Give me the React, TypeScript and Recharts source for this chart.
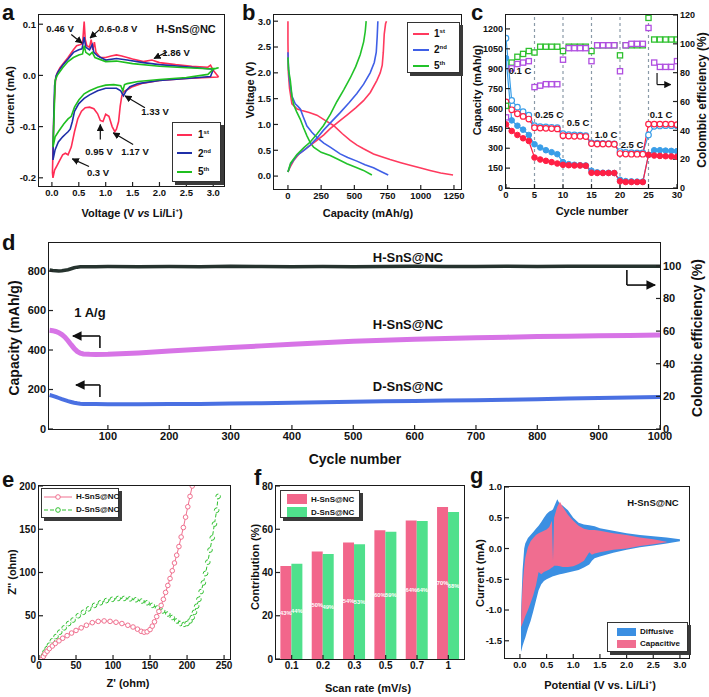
import React from 'react'
import {
  LineChart, Line, XAxis, YAxis, BarChart, Bar, LabelList,
  ComposedChart, AreaChart, Area, ReferenceLine,
} from 'recharts'

const FONT = "'Liberation Sans', Arial, Helvetica, sans-serif"

// ---- a: cyclic voltammetry, [voltage, current]
const cvFirst: [number, number][] = [
  [3.1, -0.003], [2.9, -0.004], [2.5, -0.006], [2.0, -0.01], [1.7, -0.015], [1.5, -0.022], [1.4, -0.028],
  [1.33, -0.032], [1.3, -0.04], [1.27, -0.06], [1.24, -0.09], [1.2, -0.105], [1.17, -0.11], [1.12, -0.1],
  [1.06, -0.08], [1.0, -0.076], [0.95, -0.09], [0.9, -0.088], [0.85, -0.075], [0.78, -0.065], [0.7, -0.062],
  [0.62, -0.063], [0.55, -0.07], [0.48, -0.085], [0.42, -0.11], [0.36, -0.14], [0.3, -0.155], [0.25, -0.152],
  [0.2, -0.155], [0.15, -0.165], [0.1, -0.175], [0.05, -0.185], [0.02, -0.2],
  [0.01, -0.19], [0.04, -0.06], [0.07, -0.005], [0.1, 0.005], [0.15, 0.015], [0.2, 0.022], [0.3, 0.035],
  [0.4, 0.05], [0.46, 0.058], [0.52, 0.06], [0.57, 0.062], [0.6, 0.105], [0.62, 0.07], [0.65, 0.058],
  [0.7, 0.055], [0.73, 0.07], [0.76, 0.05], [0.79, 0.065], [0.82, 0.045], [0.9, 0.035], [1.0, 0.035],
  [1.1, 0.038], [1.2, 0.04], [1.3, 0.038], [1.5, 0.032], [1.7, 0.027], [1.86, 0.03], [2.0, 0.025],
  [2.3, 0.021], [2.6, 0.018], [2.9, 0.016], [2.95, 0.02], [3.0, 0.01], [3.1, -0.003],
]
const cvSecond: [number, number][] = [
  [3.0, 0.012], [2.95, -0.002], [2.5, -0.006], [2.0, -0.01], [1.6, -0.016], [1.45, -0.022], [1.38, -0.03],
  [1.33, -0.04], [1.28, -0.03], [1.2, -0.025], [1.0, -0.025], [0.85, -0.03], [0.7, -0.038], [0.6, -0.045],
  [0.5, -0.055], [0.42, -0.07], [0.38, -0.09], [0.34, -0.105], [0.3, -0.11], [0.25, -0.115], [0.2, -0.12],
  [0.12, -0.13], [0.06, -0.145], [0.02, -0.165],
  [0.03, -0.1], [0.05, -0.02], [0.08, 0.0], [0.12, 0.008], [0.2, 0.02], [0.3, 0.032], [0.4, 0.045],
  [0.5, 0.05], [0.56, 0.052], [0.6, 0.075], [0.63, 0.055], [0.7, 0.05], [0.75, 0.06], [0.78, 0.045],
  [0.85, 0.038], [1.0, 0.03], [1.2, 0.033], [1.4, 0.03], [1.7, 0.025], [2.0, 0.021], [2.5, 0.017],
  [2.9, 0.013], [3.0, 0.012],
]
const cvFifth: [number, number][] = [
  [3.1, 0.015], [3.0, 0.012], [2.9, 0.002], [2.5, -0.004], [2.0, -0.008], [1.6, -0.012], [1.4, -0.016],
  [1.35, -0.018], [1.32, -0.03], [1.28, -0.02], [1.15, -0.018], [1.0, -0.019], [0.85, -0.023], [0.7, -0.03],
  [0.6, -0.036], [0.5, -0.048], [0.42, -0.062], [0.36, -0.08], [0.3, -0.085], [0.22, -0.095], [0.12, -0.11],
  [0.06, -0.12], [0.02, -0.14],
  [0.04, -0.08], [0.06, -0.01], [0.1, 0.0], [0.2, 0.015], [0.3, 0.027], [0.4, 0.035], [0.5, 0.04],
  [0.57, 0.042], [0.6, 0.058], [0.63, 0.045], [0.7, 0.04], [0.75, 0.045], [0.8, 0.035], [1.0, 0.027],
  [1.2, 0.028], [1.5, 0.023], [2.0, 0.018], [2.5, 0.015], [2.9, 0.013], [3.05, 0.014], [3.1, 0.015],
]

// ---- b: charge / discharge profiles, [capacity, voltage]
const gcd1Dis: [number, number][] = [
  [0, 3.0], [0, 2.6], [3, 2.0], [12, 1.7], [30, 1.4], [70, 1.3], [105, 1.27], [160, 1.23], [218, 1.18],
  [280, 1.08], [343, 0.98], [410, 0.82], [469, 0.69], [520, 0.6], [569, 0.53], [644, 0.43], [700, 0.38],
  [769, 0.32], [850, 0.26], [920, 0.21], [1000, 0.155], [1070, 0.11], [1150, 0.06], [1243, 0.02],
]
const gcd1Cha: [number, number][] = [
  [0, 0.08], [15, 0.17], [43, 0.3], [80, 0.42], [118, 0.5], [170, 0.6], [218, 0.69], [270, 0.8], [318, 0.92],
  [380, 1.05], [444, 1.18], [510, 1.32], [569, 1.46], [620, 1.62], [669, 1.85], [695, 2.0], [710, 2.15],
  [718, 2.4], [725, 2.75], [735, 2.95], [742, 3.0],
]
const gcd2Dis: [number, number][] = [
  [0, 2.4], [4, 2.1], [12, 1.85], [30, 1.55], [55, 1.4], [75, 1.35], [93, 1.3], [115, 1.15], [143, 0.97],
  [180, 0.85], [218, 0.75], [270, 0.64], [318, 0.56], [393, 0.43], [450, 0.36], [519, 0.29], [580, 0.22],
  [644, 0.16], [700, 0.09], [755, 0.02],
]
const gcd2Cha: [number, number][] = [
  [0, 0.08], [20, 0.23], [68, 0.4], [120, 0.5], [168, 0.6], [220, 0.74], [268, 0.89], [330, 1.06],
  [393, 1.23], [460, 1.42], [519, 1.6], [570, 1.78], [619, 2.0], [650, 2.2], [665, 2.4], [672, 2.7], [677, 3.0],
]
const gcd5Dis: [number, number][] = [
  [0, 2.3], [5, 2.05], [18, 1.85], [30, 1.55], [43, 1.38], [65, 1.25], [93, 1.1], [118, 0.93], [143, 0.78],
  [168, 0.65], [193, 0.56], [250, 0.46], [318, 0.4], [380, 0.32], [444, 0.24], [510, 0.17], [569, 0.11], [632, 0.02],
]
const gcd5Cha: [number, number][] = [
  [0, 0.08], [20, 0.25], [68, 0.42], [120, 0.55], [168, 0.66], [220, 0.82], [268, 0.98], [320, 1.2],
  [368, 1.44], [420, 1.67], [469, 1.9], [510, 2.12], [544, 2.35], [570, 2.6], [582, 2.8], [589, 3.0],
]

// ---- c: rate performance
const rateCycles = [0, 1, 2, 3, 4, 5, 6, 7, 8, 9, 10, 11, 12, 13, 14, 15, 16, 17, 18, 19, 20, 21, 22, 23, 24, 25, 26, 27, 28, 29, 30]
const rateBlueOpen = [1130, 660, 610, 575, 550, 470, 462, 460, 458, 455, 410, 402, 400, 398, 395, 340, 338, 336, 335, 333, 275, 268, 266, 265, 264, 400, 465, 468, 470, 470, 470]
const rateRedOpen = [650, 590, 560, 540, 520, 455, 452, 450, 448, 446, 395, 392, 390, 390, 388, 335, 332, 332, 332, 330, 260, 256, 255, 255, 255, 482, 482, 482, 482, 482, 478]
const rateBlueFill = [980, 510, 470, 440, 400, 330, 305, 285, 270, 255, 195, 180, 175, 172, 170, 130, 118, 115, 115, 113, 62, 52, 50, 48, 48, 250, 285, 285, 282, 280, 278]
const rateRedFill = [480, 430, 400, 375, 355, 230, 215, 205, 195, 185, 175, 172, 170, 170, 168, 115, 113, 113, 113, 113, 50, 45, 45, 45, 45, 250, 245, 242, 240, 238, 236]
const rateCeGreen = [57, 87, 91, 93, 95, 94, 98, 98, 98, 98, 95, 98, 98, 98, 98, 95, 99, 99, 99, 99, 92, 99, 99, 99, 99, 118, 103, 103, 103, 103, 103]
const rateCePurple = [49, 83, 86, 87, 88, 70, 71, 72, 72, 72, 89, 97, 97, 97, 97, 88, 99, 99, 99, 99, 81, 99, 100, 100, 100, 111, 87, 84, 84, 84, 88]
const rateSteps = [5, 10, 15, 20, 25]

// ---- d: long cycling at 1 A/g
const longCycles = [5, 10, 15, 20, 25, 30, 35, 40, 45, 50, 55, 60, 70, 80, 100, 150, 200, 250, 300, 350, 400, 450, 500, 550, 600, 650, 700, 750, 800, 850, 900, 950, 1000]
const longH = [500, 498, 494, 488, 478, 465, 447, 427, 408, 393, 384, 380, 378, 377, 378, 385, 395, 404, 413, 421, 429, 437, 444, 449, 454, 458, 462, 465, 468, 470, 472, 474, 476]
const longD = [172, 168, 163, 157, 151, 146, 141, 137, 133, 130, 128, 127, 126, 126, 125, 125, 126, 127, 129, 131, 133, 135, 138, 140, 142, 144, 146, 148, 151, 154, 157, 160, 162]
const longCE = [97.5, 97.2, 97, 96.8, 97, 97.3, 97.6, 98.2, 98.8, 99.2, 99.4, 99.5, 99.5, 99.5, 99.6, 99.5, 99.6, 99.5, 99.8, 99.6, 99.5, 99.6, 99.5, 99.6, 99.7, 99.6, 99.6, 99.7, 99.6, 99.7, 99.7, 99.7, 99.8]

// ---- e: Nyquist plots, [Z', Z'']
const eisH: [number, number][] = [
  [4, 0], [6, 3], [8, 6], [11, 9], [14, 12], [18, 15], [22, 18], [27, 21], [32, 24], [38, 27], [44, 30],
  [50, 33], [57, 36], [64, 39], [72, 42], [80, 43.5], [88, 44], [96, 43.5], [104, 42.5], [112, 41], [120, 39],
  [127, 37], [133, 34.5], [138, 32], [142, 31], [146, 31.5], [150, 34], [153, 38], [156, 43], [159, 49],
  [162, 55], [165, 62], [168, 69], [171, 77], [174, 85], [177, 93], [180, 102], [183, 111], [186, 120],
  [189, 130], [192, 141], [195, 152], [198, 164], [201, 176], [204, 188], [207, 200],
]
const eisD: [number, number][] = [
  [4, 0], [6, 4], [8, 8], [11, 12], [14, 16], [18, 21], [23, 26], [28, 31], [34, 36], [40, 41], [46, 45],
  [53, 50], [60, 54], [67, 58], [75, 62], [83, 65], [91, 67.5], [99, 69], [107, 70], [115, 70], [123, 69.5],
  [131, 68.5], [139, 67], [146, 65], [153, 62], [160, 59], [167, 55.5], [174, 52], [180, 48], [186, 44],
  [191, 41], [196, 40], [200, 41], [204, 44], [207, 48], [210, 54], [213, 61], [216, 69], [219, 78], [222, 88],
  [225, 99], [228, 112], [231, 126], [234, 140], [237, 156], [240, 172], [242, 188],
]

// ---- f: capacitive contribution
const scanRates = ['0.1', '0.2', '0.3', '0.5', '0.7', '1']
const contribH = [43, 49.7, 53.9, 59.5, 64.1, 70.3]
const contribD = [44, 48.6, 53.1, 58.8, 63.8, 68]

// ---- g: diffusive / capacitive separation at one scan rate
const potentials = [0.02, 0.03, 0.05, 0.08, 0.1, 0.15, 0.2, 0.25, 0.3, 0.35, 0.4, 0.45, 0.5, 0.55, 0.6, 0.62, 0.64, 0.7, 0.75, 0.8, 0.9, 1.0, 1.1, 1.2, 1.3, 1.35, 1.4, 1.5, 1.75, 2.0, 2.25, 2.5, 2.75, 3.0]
const totalLo = [-1.68, -1.65, -1.58, -1.5, -1.45, -1.3, -1.18, -1.02, -0.85, -0.68, -0.58, -0.53, -0.5, -0.48, -0.46, -0.45, -0.445, -0.43, -0.42, -0.41, -0.39, -0.37, -0.35, -0.31, -0.26, -0.2, -0.16, -0.13, -0.07, -0.02, 0.02, 0.05, 0.08, 0.12]
const totalHi = [-1.1, -0.8, -0.35, 0.0, 0.08, 0.17, 0.22, 0.27, 0.32, 0.37, 0.43, 0.5, 0.56, 0.6, 0.62, 0.64, 0.68, 0.8, 0.72, 0.7, 0.62, 0.5, 0.42, 0.39, 0.38, 0.37, 0.36, 0.33, 0.29, 0.25, 0.22, 0.2, 0.18, 0.15]
const capLo = [-1.28, -1.26, -1.22, -1.15, -1.1, -1.0, -0.88, -0.76, -0.6, -0.38, -0.42, -0.38, -0.36, -0.34, -0.31, -0.3, -0.28, -0.28, -0.29, -0.3, -0.3, -0.29, -0.25, -0.2, -0.06, -0.1, -0.08, -0.06, -0.02, 0.0, 0.04, 0.07, 0.1, null]
const capHi = [-1.2, -0.95, -0.6, -0.3, -0.15, 0.02, 0.12, 0.17, 0.22, 0.25, 0.27, 0.29, 0.31, 0.35, 0.45, -0.2, 0.5, 0.68, 0.76, 0.68, 0.55, 0.45, 0.37, 0.32, 0.3, 0.3, 0.3, 0.29, 0.25, 0.22, 0.18, 0.15, 0.11, null]

const pts = (arr: [number, number][]) => arr.map(([x, y]) => ({ x, y }))

const cvSeries = [
  { name: '1', sup: 'st', color: '#ff2d55', data: pts(cvFirst) },
  { name: '2', sup: 'nd', color: '#1f2fa8', data: pts(cvSecond) },
  { name: '5', sup: 'th', color: '#1fbf1f', data: pts(cvFifth) },
]
const gcdSeries = [
  { name: '1', sup: 'st', color: '#ff3a5e', dis: pts(gcd1Dis), cha: pts(gcd1Cha) },
  { name: '2', sup: 'nd', color: '#3f5fe6', dis: pts(gcd2Dis), cha: pts(gcd2Cha) },
  { name: '5', sup: 'th', color: '#22c22a', dis: pts(gcd5Dis), cha: pts(gcd5Cha) },
]
const rateTable = rateCycles.map((c, i) => ({
  cycle: c, bo: rateBlueOpen[i], ro: rateRedOpen[i], bf: rateBlueFill[i], rf: rateRedFill[i],
  ceg: rateCeGreen[i], cep: rateCePurple[i],
}))
const longTable = longCycles.map((c, i) => ({ cycle: c, h: longH[i], d: longD[i], ce: longCE[i] }))
const barTable = scanRates.map((r, i) => ({ rate: r, h: contribH[i], d: contribD[i] }))
const areaTable = potentials.map((x, i) => ({
  x,
  total: [totalLo[i], totalHi[i]],
  cap: capLo[i] === null ? null : [capLo[i], capHi[i]],
}))

const tk = (size: number) => ({ fontSize: size, fontWeight: 700, fill: '#111', fontFamily: FONT })
const ax = {
  tickSize: -4,
  tickMargin: 7,
  axisLine: false,
  tickLine: { stroke: '#222', strokeWidth: 1.2 },
  allowDataOverflow: true,
}
const f1 = (v: number) => v.toFixed(1)
const pct = (v: any) => `${Math.round(Number(v))}%`

// plot rectangles (left, top, width, height) in page pixels
const pA = { l: 39, t: 15, w: 185, h: 171 }
const pB = { l: 274, t: 15, w: 187, h: 174 }
const pC = { l: 506, t: 15, w: 171, h: 173 }
const pD = { l: 49, t: 243, w: 611, h: 186 }
const pE = { l: 39, t: 486, w: 191, h: 173 }
const pF = { l: 276, t: 486, w: 188, h: 173 }
const pG = { l: 505, t: 487, w: 184, h: 171 }

function Frame({ p }: { p: { l: number; t: number; w: number; h: number } }) {
  return (
    <div style={{
      position: 'absolute', left: p.l - 1, top: p.t - 1, width: p.w + 2, height: p.h + 2,
      border: '1.5px solid #1a1a1a', boxSizing: 'border-box', pointerEvents: 'none',
    }} />
  )
}

function Txt({ x, y, size = 10, rot = 0, color = '#111', children }: any) {
  return (
    <div style={{
      position: 'absolute', left: x, top: y, transform: `translate(-50%, -50%) rotate(${rot}deg)`,
      fontSize: size, fontWeight: 700, color, whiteSpace: 'nowrap', lineHeight: 1,
    }}>{children}</div>
  )
}

function Letter({ x, y, c }: { x: number; y: number; c: string }) {
  return <div style={{ position: 'absolute', left: x, top: y, fontSize: 22, fontWeight: 700, lineHeight: 1 }}>{c}</div>
}

function LegendBox({ x, y, w, h, children }: any) {
  return (
    <div style={{
      position: 'absolute', left: x, top: y, width: w, height: h, background: '#fff',
      border: '1px solid #333', boxShadow: '3px 3px 0 #3a3a3a', boxSizing: 'border-box',
    }}>{children}</div>
  )
}

const rowStyle = (left: number, top: number, size: number) => ({
  position: 'absolute' as const, left, top, display: 'flex', alignItems: 'center',
  fontSize: size, fontWeight: 700, whiteSpace: 'nowrap' as const,
})

const squareDot = (color: string) => (p: any) => {
  if (p.cx == null || p.cy == null) return <g key={`n-${p.index}`} />
  return <rect key={`s-${p.index}`} x={p.cx - 2.6} y={p.cy - 2.6} width={5.2} height={5.2} fill="#fff" stroke={color} strokeWidth={1.3} />
}

const arrow = { stroke: '#111', strokeWidth: 1.2, markerEnd: 'url(#arrowHead)' }

export default function App() {
  return (
    <div style={{
      position: 'absolute', left: 0, top: 0, width: 709, height: 697, overflow: 'hidden',
      background: '#fff', fontFamily: FONT, color: '#111',
    }}>
      <svg width={0} height={0} style={{ position: 'absolute' }}>
        <defs>
          <marker id="arrowHead" viewBox="0 0 10 10" refX="9" refY="5" markerWidth="6" markerHeight="6" orient="auto-start-reverse">
            <path d="M0,0 L10,5 L0,10 z" fill="#111" />
          </marker>
        </defs>
      </svg>

      {/* a */}
      <div style={{ position: 'absolute', left: pA.l - 38, top: pA.t - 5 }}>
        <LineChart width={38 + pA.w + 6} height={5 + pA.h + 22} margin={{ top: 5, right: 6, bottom: 0, left: 0 }}>
          <XAxis type="number" dataKey="x" domain={[-0.24, 3.2]} ticks={[0, 0.5, 1, 1.5, 2, 2.5, 3]} tickFormatter={f1} height={22} tick={tk(9.5)} {...ax} />
          <YAxis type="number" domain={[-0.216, 0.118]} ticks={[-0.2, -0.1, 0, 0.1]} tickFormatter={f1} width={38} tick={tk(9.5)} {...ax} />
          {cvSeries.map((s) => (
            <Line key={s.name} data={s.data} dataKey="y" type="linear" stroke={s.color} strokeWidth={1.6} dot={false} isAnimationActive={false} />
          ))}
          <ReferenceLine segment={[{ x: 0.36, y: 0.08 }, { x: 0.56, y: 0.063 }]} {...arrow} />
          <ReferenceLine segment={[{ x: 0.88, y: 0.089 }, { x: 0.71, y: 0.073 }]} {...arrow} />
          <ReferenceLine segment={[{ x: 2.14, y: 0.046 }, { x: 1.9, y: 0.033 }]} {...arrow} />
          <ReferenceLine segment={[{ x: 1.73, y: -0.063 }, { x: 1.36, y: -0.04 }]} {...arrow} />
          <ReferenceLine segment={[{ x: 0.9, y: -0.125 }, { x: 0.9, y: -0.096 }]} {...arrow} />
          <ReferenceLine segment={[{ x: 1.51, y: -0.135 }, { x: 1.14, y: -0.112 }]} {...arrow} />
          <ReferenceLine segment={[{ x: 0.69, y: -0.178 }, { x: 0.38, y: -0.163 }]} {...arrow} />
        </LineChart>
      </div>
      <Frame p={pA} />
      <Txt x={60} y={29} size={9.5}>0.46 V</Txt>
      <Txt x={118} y={29} size={9.5}>0.6-0.8 V</Txt>
      <Txt x={186} y={29} size={11}>H-SnS@NC</Txt>
      <Txt x={176} y={53} size={9.5}>1.86 V</Txt>
      <Txt x={155} y={112} size={9.5}>1.33 V</Txt>
      <Txt x={99} y={152} size={9.5}>0.95 V</Txt>
      <Txt x={135} y={152} size={9.5}>1.17 V</Txt>
      <Txt x={98} y={173} size={9.5}>0.3 V</Txt>
      <LegendBox x={172} y={122} w={49} h={60}>
        {cvSeries.map((s, i) => (
          <div key={s.name} style={rowStyle(4, 6 + i * 18.5, 10)}>
            <div style={{ width: 15, height: 2, background: s.color, marginRight: 6, flexShrink: 0 }} />
            <span>{s.name}<sup style={{ fontSize: 6 }}>{s.sup}</sup></span>
          </div>
        ))}
      </LegendBox>
      <Txt x={10} y={100} size={11} rot={-90}>Current (mA)</Txt>
      <Txt x={132} y={213} size={11}>Voltage (V <i>vs</i> Li/Li<sup style={{ fontSize: 6 }}>+</sup>)</Txt>
      <Letter x={2} y={2} c="a" />

      {/* b */}
      <div style={{ position: 'absolute', left: pB.l - 30, top: pB.t - 5 }}>
        <LineChart width={30 + pB.w + 12} height={5 + pB.h + 22} margin={{ top: 5, right: 12, bottom: 0, left: 0 }}>
          <XAxis type="number" dataKey="x" domain={[-105, 1303]} ticks={[0, 250, 500, 750, 1000, 1250]} height={22} tick={tk(9.5)} {...ax} />
          <YAxis type="number" domain={[-0.25, 3.12]} ticks={[0, 0.5, 1, 1.5, 2, 2.5, 3]} tickFormatter={f1} width={30} tick={tk(9.5)} {...ax} />
          {gcdSeries.map((s) => (
            <Line key={`d${s.name}`} data={s.dis} dataKey="y" type="linear" stroke={s.color} strokeWidth={1.6} dot={false} isAnimationActive={false} />
          ))}
          {gcdSeries.map((s) => (
            <Line key={`c${s.name}`} data={s.cha} dataKey="y" type="linear" stroke={s.color} strokeWidth={1.6} dot={false} isAnimationActive={false} />
          ))}
        </LineChart>
      </div>
      <Frame p={pB} />
      <LegendBox x={407} y={22} w={53} h={51}>
        {gcdSeries.map((s, i) => (
          <div key={s.name} style={rowStyle(5, 5 + i * 16, 10)}>
            <div style={{ width: 16, height: 2, background: s.color, marginRight: 5, flexShrink: 0 }} />
            <span>{s.name}<sup style={{ fontSize: 6 }}>{s.sup}</sup></span>
          </div>
        ))}
      </LegendBox>
      <Txt x={250} y={90} size={11} rot={-90}>Voltage (V)</Txt>
      <Txt x={368} y={213} size={11}>Capacity (mAh/g)</Txt>
      <Letter x={242} y={2} c="b" />

      {/* c */}
      <div style={{ position: 'absolute', left: pC.l - 32, top: pC.t - 5 }}>
        <ComposedChart width={32 + pC.w + 20} height={5 + pC.h + 22} data={rateTable} margin={{ top: 5, right: 0, bottom: 0, left: 0 }}>
          <XAxis type="number" dataKey="cycle" domain={[0, 30]} ticks={[0, 5, 10, 15, 20, 25, 30]} height={22} tick={tk(9.5)} {...ax} />
          <YAxis yAxisId="left" type="number" domain={[0, 1305]} ticks={[0, 150, 300, 450, 600, 750, 900, 1050, 1200]} width={32} tick={tk(9)} {...ax} />
          <YAxis yAxisId="right" orientation="right" type="number" domain={[0, 120]} ticks={[0, 20, 40, 60, 80, 100, 120]} width={20} tick={tk(9)} {...ax} />
          {rateSteps.map((s) => (
            <ReferenceLine key={s} yAxisId="left" x={s} stroke="#8a9aa8" strokeDasharray="3 3" strokeWidth={1.2} />
          ))}
          <Line yAxisId="left" dataKey="bo" stroke="#3a9ee8" strokeWidth={1.2} dot={{ r: 2.8, fill: '#fff', stroke: '#3a9ee8', strokeWidth: 1.2 }} isAnimationActive={false} />
          <Line yAxisId="left" dataKey="bf" stroke="#3a9ee8" strokeWidth={1.2} dot={{ r: 2.8, fill: '#3a9ee8', stroke: '#3a9ee8', strokeWidth: 1 }} isAnimationActive={false} />
          <Line yAxisId="left" dataKey="ro" stroke="#ff1f44" strokeWidth={1.2} dot={{ r: 2.8, fill: '#fff', stroke: '#ff1f44', strokeWidth: 1.2 }} isAnimationActive={false} />
          <Line yAxisId="left" dataKey="rf" stroke="#ff1f44" strokeWidth={1.2} dot={{ r: 2.8, fill: '#ff1f44', stroke: '#ff1f44', strokeWidth: 1 }} isAnimationActive={false} />
          <Line yAxisId="right" dataKey="ceg" stroke="none" dot={squareDot('#2ec02e')} activeDot={false} isAnimationActive={false} />
          <Line yAxisId="right" dataKey="cep" stroke="none" dot={squareDot('#b04ee0')} activeDot={false} isAnimationActive={false} />
          <ReferenceLine yAxisId="left" segment={[{ x: 26.5, y: 868 }, { x: 26.5, y: 780 }]} stroke="#111" strokeWidth={1.2} />
          <ReferenceLine yAxisId="left" segment={[{ x: 26.5, y: 780 }, { x: 28.9, y: 780 }]} {...arrow} />
        </ComposedChart>
      </div>
      <Frame p={pC} />
      <Txt x={520} y={71} size={9.5}>0.1 C</Txt>
      <Txt x={549} y={115} size={9.5}>0.25 C</Txt>
      <Txt x={578} y={123} size={9.5}>0.5 C</Txt>
      <Txt x={606} y={135} size={9.5}>1.0 C</Txt>
      <Txt x={632} y={145} size={9.5}>2.5 C</Txt>
      <Txt x={661} y={115} size={9.5}>0.1 C</Txt>
      <Txt x={477} y={90} size={11} rot={-90}>Capacity (mAh/g)</Txt>
      <Txt x={702} y={100} size={12} rot={-90}>Colombic efficiency (%)</Txt>
      <Txt x={592} y={211} size={11}>Cycle number</Txt>
      <Letter x={471} y={2} c="c" />

      {/* d */}
      <div style={{ position: 'absolute', left: pD.l - 40, top: pD.t - 5 }}>
        <LineChart width={40 + pD.w + 30} height={5 + pD.h + 24} data={longTable} margin={{ top: 5, right: 0, bottom: 0, left: 0 }}>
          <XAxis type="number" dataKey="cycle" domain={[4, 1000]} ticks={[100, 200, 300, 400, 500, 600, 700, 800, 900, 1000]} height={24} tick={tk(11)} {...ax} />
          <YAxis yAxisId="left" type="number" domain={[0, 942]} ticks={[0, 200, 400, 600, 800]} width={40} tick={tk(11)} {...ax} />
          <YAxis yAxisId="right" orientation="right" type="number" domain={[0, 114]} ticks={[0, 20, 40, 60, 80, 100]} width={30} tick={tk(11)} {...ax} />
          <Line yAxisId="right" dataKey="ce" stroke="#26332e" strokeWidth={3.5} dot={false} isAnimationActive={false} />
          <Line yAxisId="left" dataKey="h" stroke="#d774e6" strokeWidth={5} dot={false} isAnimationActive={false} />
          <Line yAxisId="left" dataKey="d" stroke="#4a70e2" strokeWidth={4} dot={false} isAnimationActive={false} />
          <ReferenceLine yAxisId="left" segment={[{ x: 87, y: 471 }, { x: 43, y: 471 }]} {...arrow} strokeWidth={1.6} />
          <ReferenceLine yAxisId="left" segment={[{ x: 87, y: 471 }, { x: 87, y: 410 }]} stroke="#111" strokeWidth={1.6} />
          <ReferenceLine yAxisId="left" segment={[{ x: 87, y: 223 }, { x: 48, y: 223 }]} {...arrow} strokeWidth={1.6} />
          <ReferenceLine yAxisId="left" segment={[{ x: 87, y: 223 }, { x: 87, y: 162 }]} stroke="#111" strokeWidth={1.6} />
          <ReferenceLine yAxisId="left" segment={[{ x: 946, y: 805 }, { x: 946, y: 729 }]} stroke="#111" strokeWidth={1.6} />
          <ReferenceLine yAxisId="left" segment={[{ x: 946, y: 729 }, { x: 992, y: 729 }]} {...arrow} strokeWidth={1.6} />
        </LineChart>
      </div>
      <Frame p={pD} />
      <Txt x={408} y={257} size={13}>H-SnS@NC</Txt>
      <Txt x={408} y={324} size={13}>H-SnS@NC</Txt>
      <Txt x={408} y={386} size={13}>D-SnS@NC</Txt>
      <Txt x={90} y={312} size={13}>1 A/g</Txt>
      <Txt x={14} y={338} size={14} rot={-90}>Capacity (mAh/g)</Txt>
      <Txt x={697} y={338} size={14} rot={-90}>Colombic efficiency (%)</Txt>
      <Txt x={355} y={459} size={14}>Cycle number</Txt>
      <Letter x={2} y={232} c="d" />

      {/* e */}
      <div style={{ position: 'absolute', left: pE.l - 34, top: pE.t - 5 }}>
        <LineChart width={34 + pE.w + 10} height={5 + pE.h + 22} margin={{ top: 5, right: 10, bottom: 0, left: 0 }}>
          <XAxis type="number" dataKey="x" domain={[0, 258]} ticks={[0, 50, 100, 150, 200, 250]} height={22} tick={tk(10)} {...ax} />
          <YAxis type="number" domain={[0, 200]} ticks={[0, 50, 100, 150, 200]} width={34} tick={tk(10)} {...ax} />
          <Line data={pts(eisD)} dataKey="y" stroke="#2ec02e" strokeWidth={1} strokeDasharray="4 2" dot={{ r: 2.3, fill: '#fff', stroke: '#2ec02e', strokeWidth: 1 }} isAnimationActive={false} />
          <Line data={pts(eisH)} dataKey="y" stroke="#f0708f" strokeWidth={1} dot={{ r: 2.3, fill: '#fff', stroke: '#f0708f', strokeWidth: 1 }} isAnimationActive={false} />
        </LineChart>
      </div>
      <Frame p={pE} />
      <LegendBox x={41} y={488} w={78} h={30}>
        {[{ n: 'H-SnS@NC', c: '#f0708f', dash: false }, { n: 'D-SnS@NC', c: '#2ec02e', dash: true }].map((s, i) => (
          <div key={s.n} style={rowStyle(2, 3 + i * 13, 8)}>
            <svg width={28} height={8} style={{ marginRight: 4, flexShrink: 0 }}>
              <line x1={0} y1={4} x2={28} y2={4} stroke={s.c} strokeWidth={1} strokeDasharray={s.dash ? '4 2' : undefined} />
              <circle cx={14} cy={4} r={2.3} fill="#fff" stroke={s.c} strokeWidth={1} />
            </svg>
            <span>{s.n}</span>
          </div>
        ))}
      </LegendBox>
      <Txt x={12} y={572} size={11} rot={-90}>Z'' (ohm)</Txt>
      <Txt x={128} y={683} size={11}>Z' (ohm)</Txt>
      <Letter x={2} y={469} c="e" />

      {/* f */}
      <div style={{ position: 'absolute', left: pF.l - 28, top: pF.t - 5 }}>
        <BarChart width={28 + pF.w + 8} height={5 + pF.h + 22} data={barTable} margin={{ top: 5, right: 8, bottom: 0, left: 0 }} barCategoryGap="14%" barGap={0}>
          <XAxis dataKey="rate" height={22} tick={tk(10)} {...ax} />
          <YAxis type="number" domain={[0, 80]} ticks={[0, 20, 40, 60, 80]} width={28} tick={tk(10)} {...ax} />
          <Bar dataKey="h" fill="#f2668b" isAnimationActive={false}>
            <LabelList dataKey="h" position="center" formatter={pct} style={{ fill: '#fff', fontSize: 5.8, fontWeight: 700 }} />
          </Bar>
          <Bar dataKey="d" fill="#4fe08c" isAnimationActive={false}>
            <LabelList dataKey="d" position="center" formatter={pct} style={{ fill: '#fff', fontSize: 5.8, fontWeight: 700 }} />
          </Bar>
        </BarChart>
      </div>
      <Frame p={pF} />
      <LegendBox x={280} y={490} w={80} h={28}>
        {[{ n: 'H-SnS@NC', c: '#f2668b' }, { n: 'D-SnS@NC', c: '#4fe08c' }].map((s, i) => (
          <div key={s.n} style={rowStyle(6, 3 + i * 13, 8)}>
            <div style={{ width: 20, height: 10, background: s.c, marginRight: 4, flexShrink: 0 }} />
            <span>{s.n}</span>
          </div>
        ))}
      </LegendBox>
      <Txt x={255} y={567} size={11} rot={-90}>Contribution (%)</Txt>
      <Txt x={368} y={688} size={11}>Scan rate (mV/s)</Txt>
      <Letter x={254} y={467} c="f" />

      {/* g */}
      <div style={{ position: 'absolute', left: pG.l - 36, top: pG.t - 5 }}>
        <AreaChart width={36 + pG.w + 10} height={5 + pG.h + 22} data={areaTable} margin={{ top: 5, right: 10, bottom: 0, left: 0 }}>
          <XAxis type="number" dataKey="x" domain={[-0.28, 3.17]} ticks={[0, 0.5, 1, 1.5, 2, 2.5, 3]} tickFormatter={f1} height={22} tick={tk(9.5)} {...ax} />
          <YAxis type="number" domain={[-1.78, 1.0]} ticks={[-1.5, -1, -0.5, 0, 0.5, 1]} tickFormatter={f1} width={36} tick={tk(9.5)} {...ax} />
          <Area dataKey="total" type="linear" stroke="none" fill="#3b8fe2" fillOpacity={1} isAnimationActive={false} />
          <Area dataKey="cap" type="linear" stroke="none" fill="#f06d90" fillOpacity={1} isAnimationActive={false} />
        </AreaChart>
      </div>
      <Frame p={pG} />
      <Txt x={653} y={503} size={9.5}>H-SnS@NC</Txt>
      <LegendBox x={607} y={622} w={81} h={30}>
        {[{ n: 'Diffusive', c: '#3b8fe2' }, { n: 'Capacitive', c: '#f06d90' }].map((s, i) => (
          <div key={s.n} style={rowStyle(9, 4 + i * 12, 8)}>
            <div style={{ width: 19, height: 8, background: s.c, marginRight: 4, flexShrink: 0 }} />
            <span>{s.n}</span>
          </div>
        ))}
      </LegendBox>
      <Txt x={480} y={573} size={11} rot={-90}>Current (mA)</Txt>
      <Txt x={600} y={685} size={11}>Potential (V vs. Li/Li<sup style={{ fontSize: 6 }}>+</sup>)</Txt>
      <Letter x={470} y={465} c="g" />
    </div>
  )
}
